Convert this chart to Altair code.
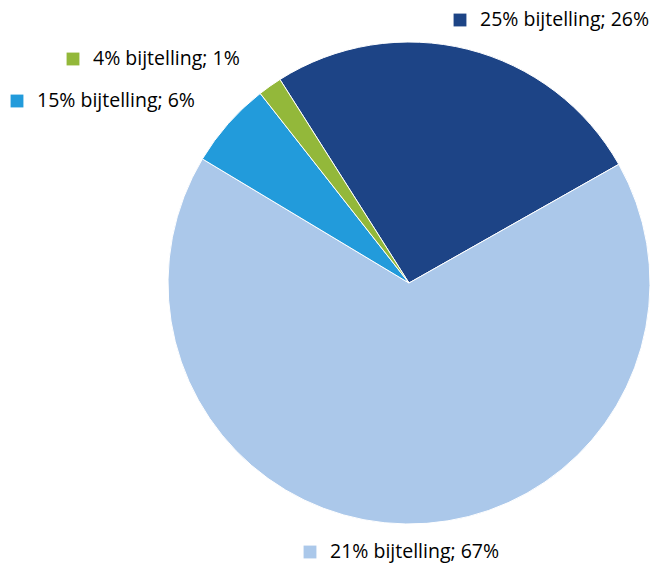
import altair as alt
import pandas as pd
import math

# Data
categories = ["25% bijtelling", "21% bijtelling", "15% bijtelling", "4% bijtelling"]
shares = [25.8, 66.8, 5.8, 1.6]
share_labels = ["26%", "67%", "6%", "1%"]
colors = ["#1d4486", "#abc8ea", "#229bdb", "#93b83a"]

# Layout for labels (pixel positions in chart coordinates)
label_x = [452, 302, 9, 65]
label_y = [12, 544, 93, 51]

start = -0.565
df = pd.DataFrame({
    "cat": categories,
    "share": shares,
    "order": list(range(len(categories))),
})
lab = pd.DataFrame({
    "cat": categories,
    "text": [f"{c}; {p}" for c, p in zip(categories, share_labels)],
    "lx": label_x,
    "ly": label_y,
})
lab["tx"] = lab["lx"] + 20

color_scale = alt.Scale(domain=categories, range=colors)

pie = alt.Chart(df).mark_arc(outerRadius=241, stroke="white", strokeWidth=1).encode(
    theta=alt.Theta("share:Q", stack=True,
                    scale=alt.Scale(range=[start, start + 2 * math.pi])),
    order=alt.Order("order:Q"),
    color=alt.Color("cat:N", scale=color_scale, legend=None),
    x=alt.value(401),
    y=alt.value(275),
)

squares = alt.Chart(lab).mark_square(size=165, opacity=1).encode(
    x=alt.X("lx:Q", scale=None),
    y=alt.Y("ly:Q", scale=None),
    color=alt.Color("cat:N", scale=color_scale, legend=None),
)

texts = alt.Chart(lab).mark_text(
    align="left", baseline="middle", font="Open Sans", fontSize=19.5, color="#000000"
).encode(
    x=alt.X("tx:Q", scale=None),
    y=alt.Y("ly:Q", scale=None),
    text="text:N",
)

chart = alt.layer(pie, squares, texts).properties(
    width=652, height=558, autosize=alt.AutoSizeParams(type="none"), padding=0
).configure_view(stroke=None)

chart.save("out.html", embed_options={"renderer": "svg", "actions": False})
